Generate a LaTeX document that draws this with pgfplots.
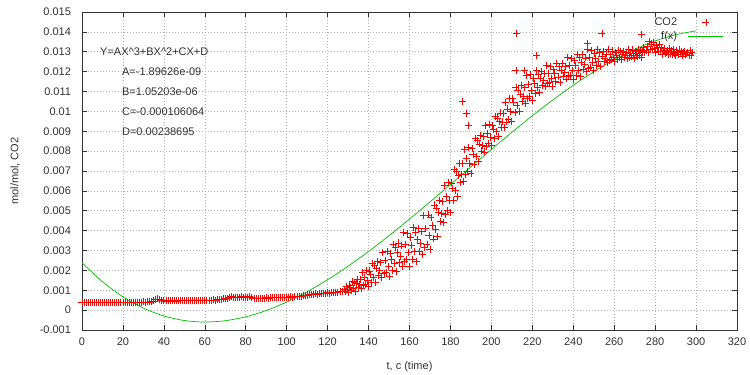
\documentclass[border=0pt]{standalone}
\usepackage{pgfplots}
\pgfplotsset{compat=1.18}
\usepackage{fontspec}
\setmainfont{Liberation Sans}
\definecolor{fitgreen}{RGB}{0,192,0}
\definecolor{txt}{RGB}{50,50,50}
\pgfplotsset{
  markleg/.style={legend image code/.code={\path (-9bp,0bp) (35bp,0bp); \draw[##1] plot coordinates {(17.5bp,0bp)};}},
  lineleg/.style={legend image code/.code={\path (-9bp,0bp); \draw[##1] (0bp,0bp) -- (35bp,0bp);}},
}
\newcommand{\lf}{\fontsize{11bp}{13bp}\selectfont}
\begin{document}
\begin{tikzpicture}
\path[use as bounding box] (-82bp,-45bp) rectangle (668bp,330bp);
\begin{axis}[
  at={(0,0)}, anchor=south west,
  scale only axis, width=655bp, height=318bp,
  xmin=0, xmax=320, ymin=-0.001, ymax=0.015,
  xtick={0,20,40,60,80,100,120,140,160,180,200,220,240,260,280,300,320},
  ytick={-0.001,0,0.001,0.002,0.003,0.004,0.005,0.006,0.007,0.008,0.009,0.01,0.011,0.012,0.013,0.014,0.015},
  scaled y ticks=false,
  yticklabel style={/pgf/number format/fixed, /pgf/number format/precision=3, xshift=-7.5bp},
  xticklabel style={yshift=-4bp},
  /pgf/number format/assume math mode=true,
  tick label style={font=\lf, text=txt},
  grid=major, major grid style={gray!60, line width=0.6bp, dash pattern=on 1bp off 2bp},
  tick align=inside, tick pos=both,
  major tick length=5bp, tick style={black!80, line width=0.6bp},
  axis line style={black!80, line width=0.8bp},
  xlabel={t, c (time)}, ylabel={mol/mol, CO2},
  label style={font=\lf, text=txt},
  xlabel style={at={(axis description cs:0.5,-0.1165)}, anchor=center},
  ylabel style={at={(axis description cs:-0.1023,0.5)}, anchor=center},
  legend style={draw=none, fill=none, at={(axis description cs:1,1)}, anchor=north east,
    xshift=-10bp, yshift=-2bp, font=\lf, text=txt, row sep=0bp},
  legend cell align=right, legend plot pos=right,
]
\addplot[only marks, mark=+, mark size=3.5bp, color=red, mark options={line width=0.8bp}, markleg]
coordinates {
(0,0.00040)(1,0.00038)(2,0.00039)(3,0.00038)(4,0.00039)(5,0.00038)(6,0.00039)(7,0.00039)(8,0.00038)(9,0.00039)
(10,0.00039)(11,0.00038)(12,0.00039)(13,0.00039)(14,0.00038)(15,0.00039)(16,0.00039)(17,0.00039)(18,0.00038)(19,0.00039)
(20,0.00039)(21,0.00039)(22,0.00040)(23,0.00039)(24,0.00040)(25,0.00040)(26,0.00039)(27,0.00040)(28,0.00040)(29,0.00040)
(30,0.00041)(31,0.00040)(32,0.00041)(33,0.00041)(34,0.00042)(35,0.00046)(36,0.00052)(37,0.00056)(38,0.00055)(39,0.00050)
(40,0.00047)(41,0.00046)(42,0.00047)(43,0.00046)(44,0.00047)(45,0.00047)(46,0.00046)(47,0.00047)(48,0.00048)(49,0.00047)
(50,0.00048)(51,0.00047)(52,0.00048)(53,0.00048)(54,0.00047)(55,0.00048)(56,0.00049)(57,0.00048)(58,0.00049)(59,0.00048)
(60,0.00049)(61,0.00050)(62,0.00049)(63,0.00050)(64,0.00051)(65,0.00050)(66,0.00052)(67,0.00053)(68,0.00054)(69,0.00056)
(70,0.00058)(71,0.00060)(72,0.00064)(73,0.00068)(74,0.00065)(75,0.00062)(76,0.00063)(77,0.00066)(78,0.00069)(79,0.00064)
(80,0.00062)(81,0.00066)(82,0.00068)(83,0.00063)(84,0.00061)(85,0.00060)(86,0.00061)(87,0.00060)(88,0.00061)(89,0.00061)
(90,0.00062)(91,0.00061)(92,0.00062)(93,0.00062)(94,0.00063)(95,0.00062)(96,0.00063)(97,0.00064)(98,0.00063)(99,0.00064)
(100,0.00065)(101,0.00066)(102,0.00067)(103,0.00066)(104,0.00068)(105,0.00070)(106,0.00069)(107,0.00071)(108,0.00073)(109,0.00072)
(110,0.00075)(111,0.00078)(112,0.00080)(113,0.00079)(114,0.00082)(115,0.00080)(116,0.00083)(117,0.00084)(118,0.00082)(119,0.00085)
(120,0.00087)(121,0.00086)(122,0.00088)(123,0.00087)(124,0.00090)(125,0.00089)(126,0.00092)(127,0.00094)
(128,0.00105)(128.5,0.00094)(129,0.00119)(129.5,0.00102)(130,0.00089)(130.5,0.00123)(131,0.00116)(131.5,0.00098)
(132,0.00143)(132.5,0.00110)(133,0.00141)(133.5,0.00096)(134,0.00133)(134.5,0.00155)(135,0.00114)(135.5,0.00130)
(136,0.00154)(136.5,0.00110)(137,0.00190)(137.5,0.00125)(138,0.00166)(138.5,0.00130)(139,0.00200)(139.5,0.00151)
(140,0.00117)(140.5,0.00197)(141,0.00179)(141.5,0.00141)(142,0.00234)(142.5,0.00166)(143,0.00226)(143.5,0.00140)
(144,0.00208)(144.5,0.00245)(145,0.00176)(145.5,0.00199)(146,0.00238)(146.5,0.00164)(147,0.00291)(147.5,0.00184)
(148,0.00248)(148.5,0.00191)(149,0.00295)(149.5,0.00220)(150,0.00168)(150.5,0.00285)(151,0.00256)(151.5,0.00201)
(152,0.00332)(152.5,0.00233)(153,0.00316)(153.5,0.00195)(154,0.00288)(154.5,0.00338)(155,0.00241)(155.5,0.00272)
(156,0.00323)(156.5,0.00222)(157,0.00391)(157.5,0.00247)(158,0.00330)(158.5,0.00253)(159,0.00387)(159.5,0.00289)
(160,0.00218)(160.5,0.00366)(161,0.00327)(161.5,0.00257)(162,0.00418)(162.5,0.00294)(163,0.00393)(163.5,0.00245)
(164,0.00356)(164.5,0.00413)(165,0.00296)(165.5,0.00335)(166,0.00397)(166.5,0.00282)(167,0.00476)(167.5,0.00317)
(168,0.00412)(168.5,0.00330)(169,0.00479)(169.5,0.00376)(170,0.00305)(170.5,0.00466)(171,0.00428)(171.5,0.00358)
(172,0.00529)(172.5,0.00406)(173,0.00514)(173.5,0.00372)(174,0.00490)(174.5,0.00552)(175,0.00444)(175.5,0.00485)
(176,0.00547)(176.5,0.00441)(177,0.00628)(177.5,0.00481)(178,0.00574)(178.5,0.00501)(179,0.00642)(179.5,0.00551)
(180,0.00490)(180.5,0.00640)(181,0.00610)(181.5,0.00551)(182,0.00707)(182.5,0.00601)(183,0.00698)(183.5,0.00574)
(184,0.00679)(184.5,0.00736)(185,0.00643)(185.5,0.00681)(186,0.00736)(186.5,0.00646)(187,0.00810)(187.5,0.00683)
(188,0.00761)(188.5,0.00697)(189,0.00819)(189.5,0.00739)(190,0.00686)(190.5,0.00813)(191,0.00785)(191.5,0.00734)
(192,0.00866)(192.5,0.00774)(193,0.00855)(193.5,0.00748)(194,0.00836)(194.5,0.00881)(195,0.00801)(195.5,0.00830)
(196,0.00874)(196.5,0.00796)(197,0.00930)(197.5,0.00824)(198,0.00889)(198.5,0.00837)(199,0.00936)(199.5,0.00870)
(200,0.00827)(200.5,0.00931)(201,0.00909)(201.5,0.00866)(202,0.00976)(202.5,0.00898)(203,0.00967)(203.5,0.00875)
(204,0.00951)(204.5,0.00992)(205,0.00920)(205.5,0.00947)(206,0.00988)(206.5,0.00918)(207,0.01047)(207.5,0.00947)
(208,0.01012)(208.5,0.00961)(209,0.01065)(209.5,0.00998)(210,0.00951)(210.5,0.01067)(211,0.01043)(211.5,0.00996)
(212,0.01122)(212.5,0.01031)(213,0.01108)(213.5,0.01001)(214,0.01086)(214.5,0.01131)(215,0.01048)(215.5,0.01077)
(216,0.01122)(216.5,0.01039)(217,0.01180)(217.5,0.01065)(218,0.01134)(218.5,0.01075)(219,0.01184)(219.5,0.01107)
(220,0.01056)(220.5,0.01167)(221,0.01140)(221.5,0.01092)(222,0.01205)(222.5,0.01121)(223,0.01187)(223.5,0.01093)
(224,0.01165)(224.5,0.01200)(225,0.01132)(225.5,0.01155)(226,0.01189)(226.5,0.01124)(227,0.01230)(227.5,0.01142)
(228,0.01192)(228.5,0.01146)(229,0.01226)(229.5,0.01167)(230,0.01127)(230.5,0.01213)(231,0.01191)(231.5,0.01151)
(232,0.01243)(232.5,0.01173)(233,0.01228)(233.5,0.01146)(234,0.01208)(234.5,0.01240)(235,0.01176)(235.5,0.01196)
(236,0.01228)(236.5,0.01163)(237,0.01270)(237.5,0.01178)(238,0.01230)(238.5,0.01181)(239,0.01267)(239.5,0.01204)
(240,0.01160)(240.5,0.01255)(241,0.01230)(241.5,0.01183)(242,0.01288)(242.5,0.01207)(243,0.01272)(243.5,0.01177)
(244,0.01248)(244.5,0.01285)(245,0.01212)(245.5,0.01234)(246,0.01269)(246.5,0.01199)(247,0.01311)(247.5,0.01217)
(248,0.01270)(248.5,0.01223)(249,0.01305)(249.5,0.01246)(250,0.01206)(250.5,0.01291)(251,0.01268)(251.5,0.01229)
(252,0.01313)(252.5,0.01249)(253,0.01297)(253.5,0.01227)(254,0.01278)(254.5,0.01302)(255,0.01252)(255.5,0.01267)
(256,0.01289)(256.5,0.01244)(257,0.01313)(257.5,0.01256)(258,0.01287)(258.5,0.01260)(259,0.01304)(259.5,0.01273)
(260,0.01253)(260.5,0.01295)(261,0.01284)(261.5,0.01263)(262,0.01308)(262.5,0.01273)(263,0.01299)(263.5,0.01260)
(264,0.01289)(264.5,0.01303)(265,0.01273)(265.5,0.01281)(266,0.01296)(266.5,0.01265)(267,0.01312)(267.5,0.01273)
(268,0.01294)(268.5,0.01274)(269,0.01309)(269.5,0.01282)(270,0.01265)(270.5,0.01301)(271,0.01291)(271.5,0.01274)
(272,0.01312)(272.5,0.01282)(273,0.01305)(273.5,0.01273)(274,0.01303)(274.5,0.01321)(275,0.01295)(275.5,0.01307)
(276,0.01325)(276.5,0.01298)(277,0.01351)(277.5,0.01311)(278,0.01339)(278.5,0.01313)(279,0.01349)(279.5,0.01318)
(280,0.01297)(280.5,0.01332)(281,0.01320)(281.5,0.01300)(282,0.01335)(282.5,0.01304)(283,0.01323)(283.5,0.01288)
(284,0.01308)(284.5,0.01317)(285,0.01292)(285.5,0.01298)(286,0.01307)(286.5,0.01285)(287,0.01317)(287.5,0.01289)
(288,0.01304)(288.5,0.01288)(289,0.01312)(289.5,0.01292)(290,0.01280)(290.5,0.01304)(291,0.01297)(291.5,0.01285)
(292,0.01309)(292.5,0.01289)(293,0.01303)(293.5,0.01279)(294,0.01295)(294.5,0.01303)(295,0.01286)(295.5,0.01289)
(296,0.01297)(296.5,0.01280)(297,0.01305)(297.5,0.01283)(298,0.01295)
(186,0.01050)(188,0.00990)(189,0.00930)(212.4,0.01390)(212,0.01206)(216,0.01206)(222,0.01280)
(247,0.01340)(254,0.01390)(273.4,0.01385)
};
\addlegendentry{CO2}
\addplot[color=fitgreen, line width=0.7bp, smooth, lineleg]
coordinates {
(0,0.002387)(10,0.001430)(20,0.000671)(30,0.000101)(40,-0.000294)(50,-0.000523)
(60,-0.000599)(70,-0.000533)(80,-0.000336)(90,-0.000020)(100,0.000405)(110,0.000926)
(120,0.001532)(130,0.002212)(140,0.002954)(150,0.003748)(160,0.004582)(170,0.005443)
(180,0.006322)(190,0.007207)(200,0.008085)(210,0.008947)(220,0.009780)(230,0.010573)
(240,0.011315)(250,0.011994)(260,0.012599)(270,0.013120)(280,0.013541)(290,0.013856)
(300,0.014051)
};
\addlegendentry{f(x)}
\node[anchor=west, inner sep=0pt, font=\lf, text=txt] at (axis cs:8.8,0.013) {Y=AX\textasciicircum 3+BX\textasciicircum 2+CX+D};
\node[anchor=west, inner sep=0pt, font=\lf, text=txt] at (axis cs:19.5,0.012) {A=-1.89626e-09};
\node[anchor=west, inner sep=0pt, font=\lf, text=txt] at (axis cs:19.5,0.011) {B=1.05203e-06};
\node[anchor=west, inner sep=0pt, font=\lf, text=txt] at (axis cs:19.5,0.010) {C=-0.000106064};
\node[anchor=west, inner sep=0pt, font=\lf, text=txt] at (axis cs:19.5,0.009) {D=0.00238695};
\end{axis}
\end{tikzpicture}
\end{document}
